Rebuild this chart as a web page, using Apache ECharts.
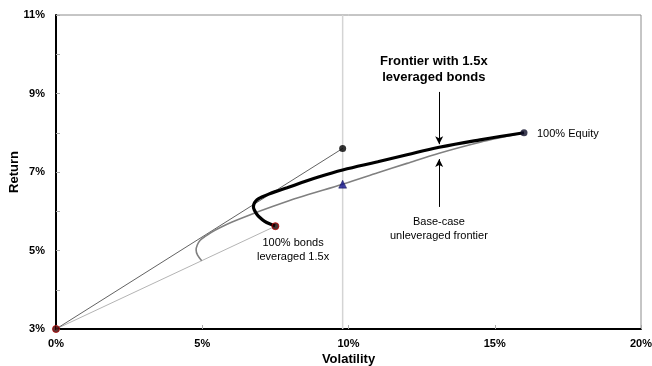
<!DOCTYPE html>
<html>
<head>
<meta charset="utf-8">
<script src="https://cdn.jsdelivr.net/npm/echarts@6/dist/echarts.min.js"></script>
<style>
  html, body { margin: 0; padding: 0; background: #fff; }
  #chart { width: 652px; height: 366px; }
</style>
</head>
<body>
<div id="chart"></div>
<script>
// tick labels
var xTicks = [0, 5, 10, 15, 20]
var yTicks = [3, 5, 7, 9, 11]

// base-case unleveraged frontier (volatility %, return %)
var baseVol = [4.98, 4.84, 4.79, 4.83, 4.93, 5.1, 5.3, 5.6, 6.0, 6.6, 7.4, 8.3, 9.8, 11.0, 12.0, 13.1, 14.5, 16.0]
var baseRet = [4.74, 4.88, 5.01, 5.14, 5.26, 5.36, 5.46, 5.58, 5.72, 5.9, 6.12, 6.35, 6.69, 6.98, 7.22, 7.48, 7.76, 8.0]

// frontier with 1.5x leveraged bonds
var levVol = [7.49, 7.3, 7.12, 6.97, 6.86, 6.79, 6.75, 6.77, 6.83, 6.93, 7.06, 7.25, 7.5, 7.9, 8.4, 9.0, 9.8, 11.0, 12.0, 13.1, 14.5, 16.0]
var levRet = [5.63, 5.68, 5.75, 5.84, 5.93, 6.02, 6.11, 6.19, 6.26, 6.32, 6.37, 6.43, 6.5, 6.6, 6.73, 6.88, 7.05, 7.26, 7.44, 7.63, 7.82, 8.0]

// special portfolios
var cashPt = [0, 3]
var levBondPt = [7.5, 5.62]
var equityPt = [16, 8.0]
var tangentPt = [9.8, 7.6]
var basePickPt = [9.8, 6.69]

// arrows (x, y from, y to)
var arrowX = 13.1
var arrowTop = [9.04, 7.71]
var arrowBottom = [6.11, 7.33]

function zip (xs, ys) {
  var out = []
  xs.forEach(function (x, i) { out.push([x, ys[i]]) })
  return out
}

var font = 'Arial, "Liberation Sans", sans-serif'
var myChart = echarts.init(document.getElementById('chart'))

var option = {
  animation: false,
  backgroundColor: '#fff',
  grid: {
    left: 56, right: 11, top: 15, bottom: 37,
    outerBoundsMode: 'none', containLabel: false,
    show: true, borderColor: '#8c8c8c', borderWidth: 1
  },
  xAxis: {
    type: 'value', min: xTicks[0], max: xTicks[xTicks.length - 1], interval: 5,
    name: 'Volatility', nameLocation: 'middle', nameGap: 24, nameMoveOverlap: false,
    nameTextStyle: { fontFamily: font, fontWeight: 'bold', fontSize: 13, color: '#000' },
    axisLine: { lineStyle: { color: '#000', width: 2 } },
    axisTick: { inside: true, length: 4, lineStyle: { color: '#aaa' } },
    axisLabel: { formatter: '{value}%', fontFamily: font, fontWeight: 'bold', fontSize: 11, color: '#000', margin: 9 },
    splitLine: { show: false }
  },
  yAxis: {
    type: 'value', min: yTicks[0], max: yTicks[yTicks.length - 1], interval: 2,
    name: 'Return', nameLocation: 'middle', nameGap: 35, nameMoveOverlap: false,
    nameTextStyle: { fontFamily: font, fontWeight: 'bold', fontSize: 13, color: '#000' },
    axisLine: { lineStyle: { color: '#000', width: 2 } },
    axisTick: { inside: true, length: 4, lineStyle: { color: '#aaa' } },
    minorTick: { show: true, splitNumber: 2, length: 4, lineStyle: { color: '#aaa' } },
    axisLabel: { formatter: '{value}%', fontFamily: font, fontWeight: 'bold', fontSize: 11, color: '#000', margin: 11 },
    splitLine: { show: false }
  },
  series: [
    {
      // vertical guide line
      type: 'line', symbol: 'none', silent: true,
      data: [[tangentPt[0], yTicks[0]], [tangentPt[0], yTicks[yTicks.length - 1]]],
      lineStyle: { color: '#d4d4d4', width: 1.5 }
    },
    {
      // cash -> leveraged bonds
      type: 'line', symbol: 'none',
      data: [cashPt, levBondPt],
      lineStyle: { color: '#b4b4b4', width: 1 }
    },
    {
      // cash -> tangent
      type: 'line', symbol: 'none',
      data: [cashPt, tangentPt],
      lineStyle: { color: '#3a3a3a', width: 0.8 }
    },
    {
      type: 'line', symbol: 'none', smooth: 0.3,
      data: zip(baseVol, baseRet),
      lineStyle: { color: '#808080', width: 1.6 }
    },
    {
      type: 'line', symbol: 'none', smooth: 0.4,
      data: zip(levVol, levRet),
      lineStyle: { color: '#000', width: 3.2 }
    },
    {
      type: 'scatter', symbolSize: 7, z: 5,
      data: [
        { value: cashPt, itemStyle: { color: '#3a0000', borderColor: '#b00000', borderWidth: 1 } },
        { value: levBondPt, itemStyle: { color: '#1a0000', borderColor: '#c00000', borderWidth: 1 } },
        { value: equityPt, itemStyle: { color: '#0c0c28' } },
        { value: tangentPt, itemStyle: { color: '#000' } }
      ]
    },
    {
      type: 'scatter', symbol: 'triangle', symbolSize: 8, z: 5,
      data: [basePickPt],
      itemStyle: { color: '#10108a', borderColor: '#000040', borderWidth: 0.5 }
    },
    {
      // arrows
      type: 'line', data: [], silent: true,
      markLine: {
        silent: true, symbol: ['none', 'arrow'], symbolSize: [6, 8],
        label: { show: false },
        lineStyle: { color: '#000', width: 1, type: 'solid' },
        data: [
          [{ coord: [arrowX, arrowTop[0]] }, { coord: [arrowX, arrowTop[1]] }],
          [{ coord: [arrowX, arrowBottom[0]] }, { coord: [arrowX, arrowBottom[1]] }]
        ]
      }
    }
  ],
  graphic: [
    {
      type: 'text', top: 53, left: 380,
      style: {
        text: 'Frontier with 1.5x\nleveraged bonds', textAlign: 'center',
        font: 'bold 13px ' + font, lineHeight: 16, fill: '#000'
      }
    },
    {
      type: 'text', top: 215, left: 390,
      style: { text: 'Base-case\nunleveraged frontier', textAlign: 'center', font: '11px ' + font, lineHeight: 14, fill: '#000' }
    },
    {
      type: 'text', top: 128, left: 537,
      style: { text: '100% Equity', font: '11px ' + font, fill: '#000' }
    },
    {
      type: 'text', top: 236, left: 257,
      style: { text: '100% bonds\nleveraged 1.5x', textAlign: 'center', font: '11px ' + font, lineHeight: 14, fill: '#000' }
    }
  ]
}
myChart.setOption(option)
</script>
</body>
</html>
